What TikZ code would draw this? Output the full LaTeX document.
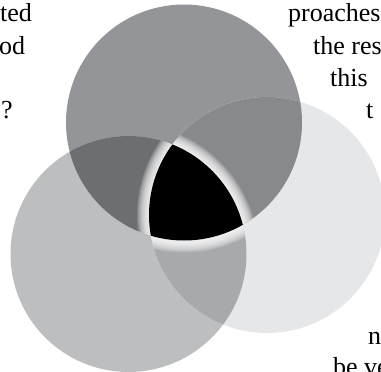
\documentclass[tikz,border=0pt]{standalone}
\usepackage{fontspec}
\setmainfont{Liberation Serif}
\definecolor{cT}{HTML}{939598}
\definecolor{cL}{HTML}{BCBEC0}
\definecolor{cR}{HTML}{E6E7E8}
\definecolor{cTL}{HTML}{6D6E71}
\definecolor{cTR}{HTML}{88898C}
\definecolor{cLR}{HTML}{A7A9AC}
\begin{document}
\begin{tikzpicture}[x=1pt,y=-1pt,
  txt/.style={anchor=base west,inner sep=0pt,font=\fontsize{26}{26}\selectfont},
  glow/.style={white,opacity=0.15}]
\useasboundingbox (0,0) rectangle (381,372);
\coordinate (T) at (184,122.5);
\coordinate (L) at (128.5,254);
\coordinate (R) at (267,215);
\def\rr{118pt}
% single circles
\fill[cT] (T) circle (\rr);
\fill[cL] (L) circle (\rr);
\fill[cR] (R) circle (\rr);
% pairwise overlaps
\begin{scope}\clip (T) circle (\rr); \fill[cTL] (L) circle (\rr);\end{scope}
\begin{scope}\clip (T) circle (\rr); \fill[cTR] (R) circle (\rr);\end{scope}
\begin{scope}\clip (L) circle (\rr); \fill[cLR] (R) circle (\rr);\end{scope}
% glow around the triple region
\begin{scope}\clip (L) circle (\rr); \clip (R) circle (\rr);
  \foreach \i in {1,...,12} \fill[glow] (T) circle ({118pt+\i*1pt});
\end{scope}
\begin{scope}\clip (T) circle (\rr); \clip (R) circle (\rr);
  \foreach \i in {1,...,12} \fill[glow] (L) circle ({118pt+\i*1pt});
\end{scope}
\begin{scope}\clip (T) circle (\rr); \clip (L) circle (\rr);
  \foreach \i in {1,...,12} \fill[glow] (R) circle ({118pt+\i*1pt});
\end{scope}
% triple overlap
\begin{scope}\clip (T) circle (\rr); \clip (L) circle (\rr);
  \fill[black] (R) circle (\rr);
\end{scope}
% text fragments
\node[txt] (t1) at (0,22) {ted};
\node[txt] (t2) at (-1,54) {od};
\node[txt] (t3) at (1,118) {?};
\node[txt] (r1) at (288,22) {proaches};
\node[txt] (r2) at (313,54) {the res};
\node[txt] (r3) at (330,86) {this};
\node[txt] (r4) at (366,118) {t};
\node[txt] (b1) at (368,344) {n};
\node[txt] (b2) at (333,375) {be ve};
\end{tikzpicture}
\end{document}
